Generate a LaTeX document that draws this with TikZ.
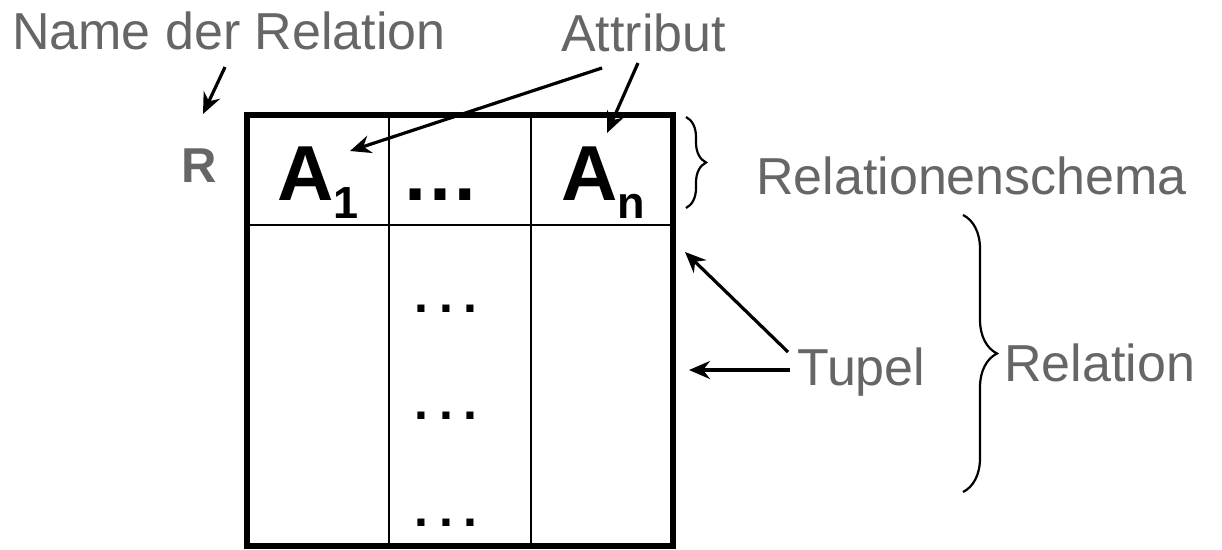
\documentclass[tikz,border=0pt]{standalone}
\usepackage{fontspec}
\setmainfont{Liberation Sans}
\usetikzlibrary{arrows.meta,decorations.pathreplacing}
\definecolor{labelgray}{RGB}{102,102,102}
\begin{document}
\begin{tikzpicture}[x=1pt,y=-1pt,
  lbl/.style={font=\fontsize{52}{60}\selectfont, text=labelgray, inner sep=0pt, anchor=base west},
  rlbl/.style={font=\fontsize{49}{55}\selectfont\bfseries, text=labelgray, inner sep=0pt, anchor=base west},
  hdr/.style={font=\fontsize{78}{80}\selectfont\bfseries, inner sep=0pt, anchor=base west},
  hdots/.style={font=\fontsize{78}{80}\selectfont\bfseries, inner sep=0pt, anchor=base},
  bdots/.style={font=\fontsize{50}{60}\selectfont\bfseries, inner sep=0pt, anchor=base},
  arr/.style={line width=3.2pt, -{Stealth[length=21pt,width=18pt,inset=7pt]}},
  frame/.style={line width=5.5pt},
  grid/.style={line width=2.5pt},
  brc/.style={line width=2.2pt, decorate, decoration={brace}}
]
\useasboundingbox (0,0) rectangle (1222,549);

% table
\draw[grid] (389,115) -- (389,546) (531,115) -- (531,546) (247,225) -- (673,225);
\draw[frame] (247,115) rectangle (673,546);

% header cells
\node[hdr] (a1) at (277,200) {A{\fontsize{45}{46}\selectfont\raisebox{-18pt}{1}}};
\node[hdots] (hd) at (440,200) {…};
\node[hdr] (an) at (561,200) {A{\fontsize{45}{46}\selectfont\raisebox{-18pt}{n}}};

% body dots
\node[bdots] (d1) at (446,312) {.\hspace{11pt}.\hspace{11pt}.};
\node[bdots] (d2) at (446,419) {.\hspace{11pt}.\hspace{11pt}.};
\node[bdots] (d3) at (446,526) {.\hspace{11pt}.\hspace{11pt}.};

% labels
\node[lbl] (name) at (12,49) {Name der Relation};
\node[lbl] (attr) at (561,51) {Attribut};
\node[rlbl] (R) at (181,182) {R};
\node[lbl] (schema) at (756,194) {Relationenschema};
\node[lbl] (tupel) at (797,385) {Tupel};
\node[lbl] (rel) at (1004,381) {Relation};

% arrow anchors
\coordinate (nameS) at (225,67);
\coordinate (nameT) at (203,114);
\coordinate (attrS1) at (602,68);
\coordinate (a1T) at (350,151);
\coordinate (attrS2) at (638,63);
\coordinate (anT) at (607,133);
\coordinate (tupS1) at (788,352);
\coordinate (tupT1) at (685,252);
\coordinate (tupS2) at (790,370);
\coordinate (tupT2) at (689,370);

\draw[arr] (nameS) -- (nameT);
\draw[arr] (attrS1) -- (a1T);
\draw[arr] (attrS2) -- (anT);
\draw[arr] (tupS1) -- (tupT1);
\draw[arr] (tupS2) -- (tupT2);

% braces
\coordinate (sb1) at (686,117);
\coordinate (sb2) at (686,208);
\coordinate (rb1) at (963,215);
\coordinate (rb2) at (963,492);
\draw[brc, decoration={amplitude=20pt}] (sb1) -- (sb2);
\draw[brc, decoration={amplitude=34pt}] (rb1) -- (rb2);
\end{tikzpicture}
\end{document}
